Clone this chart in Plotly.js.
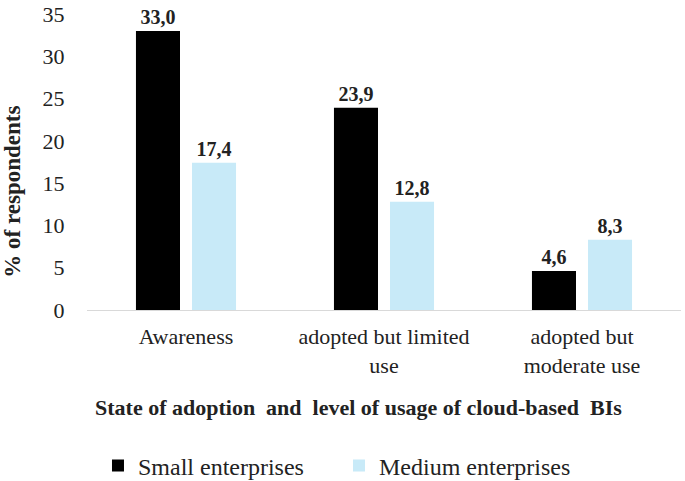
<!DOCTYPE html>
<html><head><meta charset="utf-8">
<script src="https://cdn.plot.ly/plotly-3.0.1.min.js"></script>
<style>html,body{margin:0;padding:0;background:#fff}</style>
</head><body>
<div id="chart" style="width:685px;height:481px"></div>
<script>
const categories = ["Awareness", "adopted but limited<br>use", "adopted but<br>moderate use"];
const smallValues = [33.0, 23.9, 4.6];
const mediumValues = [17.4, 12.8, 8.3];
const yTicks = [0, 5, 10, 15, 20, 25, 30, 35];
const fmt = v => v.toFixed(1).replace('.', ',');
const serif = "'Liberation Serif', 'Times New Roman', Times, serif";
const labelFont = {family: serif, size: 22, color: '#222'};
const valueFont = {family: serif, size: 20, color: '#222', weight: 'bold'};
const traces = [
  {type: 'bar', name: 'Small enterprises', x: categories, y: smallValues,
   marker: {color: '#000000'}, text: smallValues.map(fmt), textposition: 'outside',
   textfont: valueFont, cliponaxis: false, hoverinfo: 'none'},
  {type: 'bar', name: 'Medium enterprises', x: categories, y: mediumValues,
   marker: {color: '#c8eaf8'}, text: mediumValues.map(fmt), textposition: 'outside',
   textfont: valueFont, cliponaxis: false, hoverinfo: 'none'}
];
const layout = {
  width: 685, height: 481,
  margin: {l: 87, r: 4, t: 14, b: 171, autoexpand: false},
  paper_bgcolor: '#fff', plot_bgcolor: '#fff',
  barmode: 'group', bargap: 0.434, bargroupgap: 0.214,
  font: {family: serif, color: '#222'},
  xaxis: {tickfont: labelFont, showline: true, linecolor: '#d9d9d9', linewidth: 1,
          ticks: 'outside', ticklen: 7, tickcolor: 'rgba(0,0,0,0)', showgrid: false, automargin: false},
  yaxis: {range: [0, 35], tickvals: yTicks, tickfont: labelFont, showgrid: false, zeroline: false,
          ticks: 'outside', ticklen: 17, tickcolor: 'rgba(0,0,0,0)', automargin: false},
  showlegend: true,
  legend: {orientation: 'h', x: 0.0185, xanchor: 'left', y: -0.527, yanchor: 'middle',
           font: {family: serif, size: 24, color: '#222'}, itemwidth: 30, tracegroupgap: 0,
           entrywidth: 196, entrywidthmode: 'pixels'},
  annotations: [
    {text: 'State of adoption  and  level of usage of cloud-based  BIs', xref: 'paper', yref: 'paper',
     x: 0.457, y: -0.331, xanchor: 'center', yanchor: 'middle', showarrow: false,
     font: {family: serif, size: 22, color: '#222', weight: 'bold'}},
    {text: '% of respondents', xref: 'paper', yref: 'paper', textangle: -90,
     x: -0.125, y: 0.399, xanchor: 'center', yanchor: 'middle', showarrow: false,
     font: {family: serif, size: 23, color: '#222', weight: 'bold'}}
  ]
};
Plotly.newPlot('chart', traces, layout, {displayModeBar: false, staticPlot: true});
</script>
</body></html>
